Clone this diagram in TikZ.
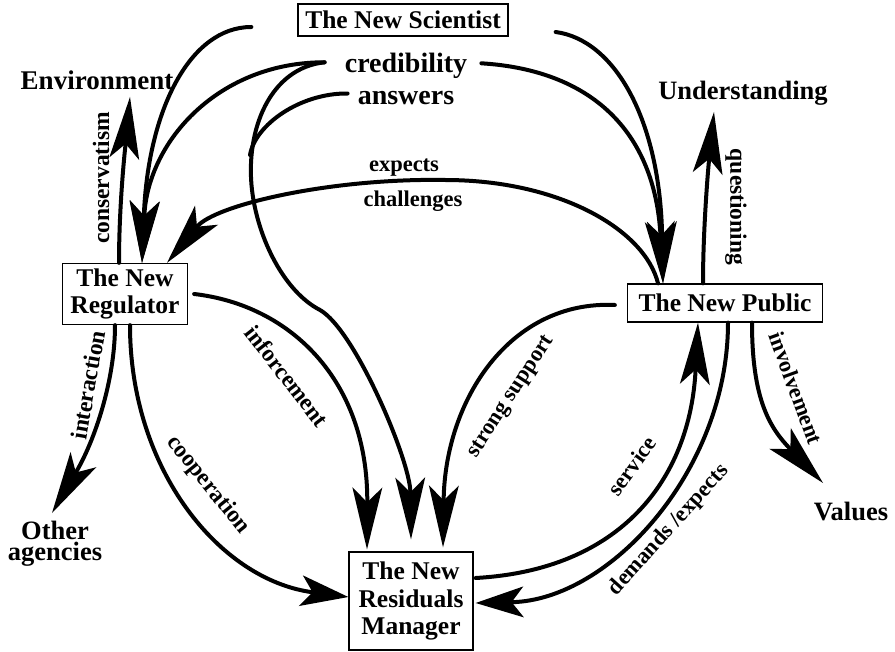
\documentclass[tikz,border=0pt]{standalone}
\usepackage{fontspec}
\setmainfont{Liberation Serif}
\usetikzlibrary{arrows.meta}
\begin{document}
\begin{tikzpicture}[x=1pt,y=-1pt,
  box/.style={draw, line width=1.3pt, align=center, inner sep=0pt,
    font=\fontsize{25.5}{27.5}\selectfont\bfseries},
  big/.style={inner sep=0pt, align=center, font=\fontsize{27}{21}\selectfont\bfseries},
  lab/.style={inner sep=0pt, font=\fontsize{22.5}{24}\selectfont\bfseries},
  labb/.style={inner sep=0pt, font=\fontsize{23.5}{24}\selectfont\bfseries},
  arr/.style={line width=4pt, line cap=round,
    -{Stealth[length=62pt,width=30pt,inset=15pt,line width=0pt]}},
  shorthead/.style={-{Stealth[length=48pt,width=31pt,inset=12pt,line width=0pt]}},
  plain/.style={line width=4pt, line cap=round}]
\useasboundingbox (0,0) rectangle (895,652);
\fill[white] (0,0) rectangle (895,652);

% boxes
\node[box, minimum width=210pt, minimum height=32pt] (sci) at (403,20) {The New Scientist};
\node[box, minimum width=125pt, minimum height=61pt] (reg) at (125,294) {The New\\Regulator};
\node[box, minimum width=195pt, minimum height=38pt] (pub) at (725,303) {The New Public};
\node[box, minimum width=124pt, minimum height=98pt] (res) at (411,601) {The New\\Residuals\\Manager};

% free texts
\node[big, anchor=base] (env) at (97,90) {Environment};
\node[big, anchor=base, font=\fontsize{26.5}{21}\selectfont\bfseries] (und) at (743,100) {Understanding};
\node[big, anchor=base, font=\fontsize{28}{21}\selectfont\bfseries] (cred) at (406,73) {credibility};
\node[big, anchor=base, font=\fontsize{28}{21}\selectfont\bfseries] (ans) at (406,105) {answers};
\node[big, anchor=north, font=\fontsize{26.5}{21}\selectfont\bfseries] (oth) at (55,521) {Other\\agencies};
\node[big, anchor=base, font=\fontsize{26.5}{21}\selectfont\bfseries] (val) at (851,520) {Values};

% arrow end points at free texts
\coordinate (envtip) at (130,97);
\coordinate (undtip) at (714,112);
\coordinate (othtip) at (52,513);
\coordinate (valtip) at (823,483);
\coordinate (merge) at (250,155);

% connectors
\draw[arr] ([xshift=-6pt]reg.north) .. controls (119,200) and (126,140) .. (envtip);
\draw[arr] ([xshift=-46pt,yshift=-7pt]sci.west) .. controls (190,27) and (148,110) .. ([xshift=17pt]reg.north);
\draw[arr] ([xshift=-20pt,yshift=4pt]cred.west) .. controls (220,62) and (148,140) .. ([xshift=17pt]reg.north);
\draw[arr] ([xshift=-20pt,yshift=4pt]cred.west) .. controls (270,68) and (245,130) .. (252,190)
   .. controls (258,240) and (285,292) .. (320,310)
   .. controls (355,330) and (410,460) .. ([yshift=12pt]res.north);
\draw[plain] ([xshift=-10pt,yshift=5pt]ans.west) .. controls (300,93) and (255,125) .. (merge);
\draw[arr] ([xshift=-67pt]pub.north) .. controls (645,230) and (560,180) .. (445,180)
   .. controls (330,178) and (215,205) .. ([xshift=42pt]reg.north);
\draw[arr] ([xshift=47pt,yshift=-12pt]sci.east) .. controls (615,40) and (660,120) .. ([xshift=-62pt]pub.north);
\draw[arr] ([xshift=14pt,yshift=3pt]cred.east) .. controls (590,70) and (655,130) .. ([xshift=-62pt]pub.north);
\draw[arr] ([xshift=-22pt]pub.north) .. controls (703,230) and (708,170) .. (undtip);
\draw[arr] ([xshift=6pt]reg.east) .. controls (290,305) and (368,380) .. ([xshift=-44pt,yshift=2pt]res.north);
\draw[arr, shorthead] ([xshift=5pt]reg.south) .. controls (130,470) and (220,580) .. ([yshift=4pt]res.west);
\draw[arr] ([xshift=-10pt]reg.south) .. controls (115,380) and (95,440) .. (othtip);
\draw[arr] ([xshift=-12pt,yshift=-2pt]pub.west) .. controls (510,300) and (445,400) .. ([xshift=32pt,yshift=4pt]res.north);
\draw[arr] ([xshift=2pt,yshift=23pt]res.east) .. controls (620,570) and (690,480) .. ([xshift=-27pt]pub.south);
\draw[arr, shorthead] ([xshift=3pt]pub.south) .. controls (728,470) and (610,600) .. ([xshift=2pt,yshift=-2pt]res.east);
\draw[arr] ([xshift=27pt]pub.south) .. controls (752,400) and (770,428) .. (valtip);

% connector labels
\node[labb, rotate=90] (lcons) at (101,178) {conservatism};
\node[labb, rotate=80] (linter) at (88,385) {interaction};
\node[labb, rotate=-52] (linf) at (287,376) {inforcement};
\node[labb, rotate=-51] (lcoop) at (208,485) {cooperation};
\node[labb, rotate=-90] (lquest) at (736,207) {questioning};
\node[lab, rotate=-70] (linv) at (796,388) {involvement};
\node[lab, rotate=57] (lstrong) at (512,397) {strong support};
\node[lab, rotate=54] (lserv) at (632,466) {service};
\node[lab, rotate=48] (ldem) at (669,530) {demands /expects};
\node[lab, anchor=base] (lexp) at (404,172) {expects};
\node[lab, anchor=base] (lchal) at (413,207) {challenges};
\end{tikzpicture}
\end{document}
